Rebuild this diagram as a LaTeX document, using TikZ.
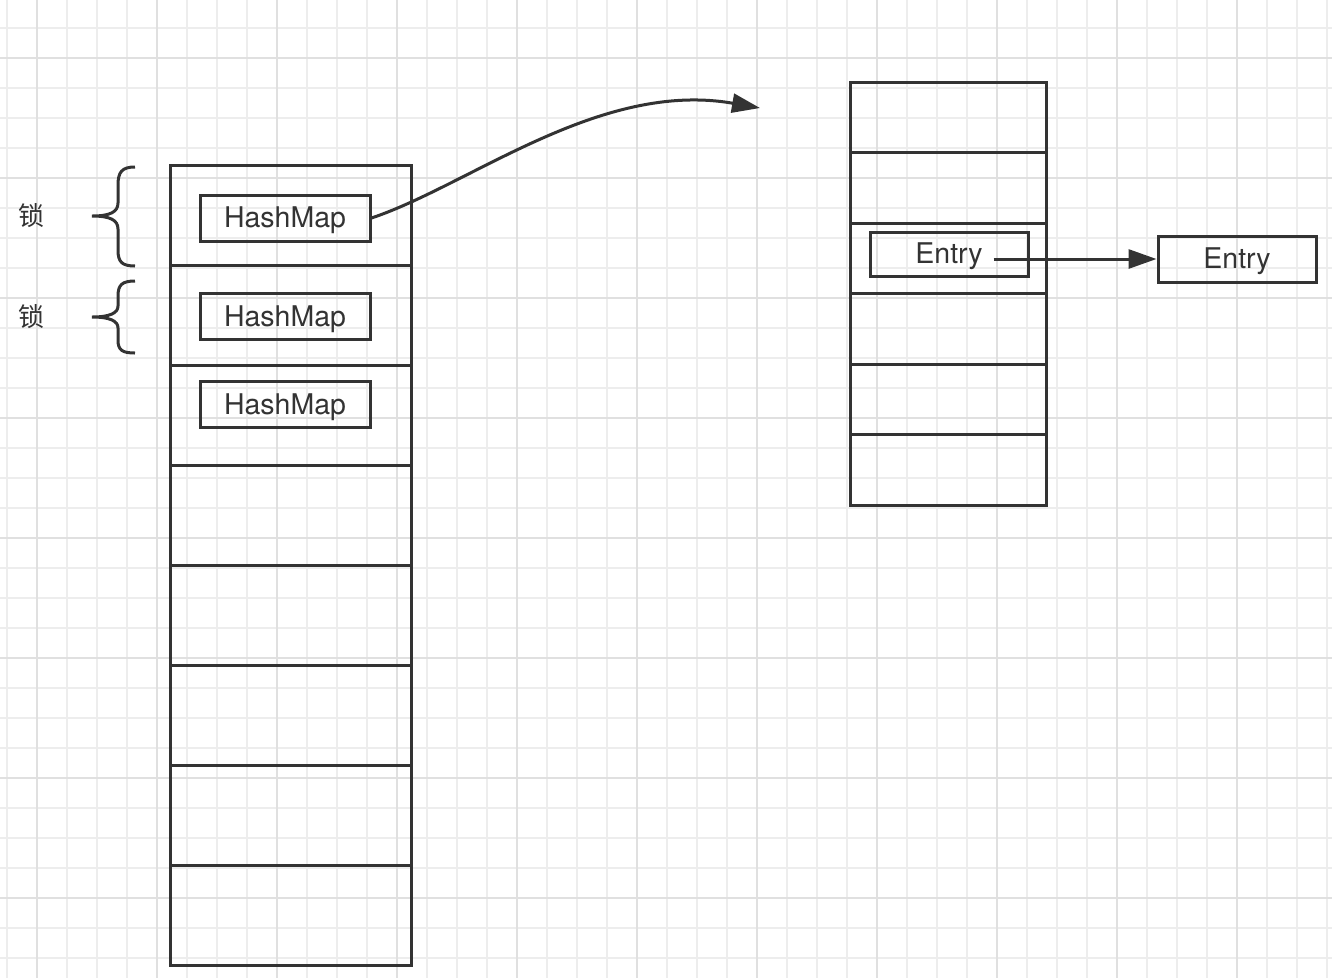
\documentclass[tikz,border=0pt]{standalone}
\usepackage{fontspec}
\setmainfont{TeX Gyre Heros}
\newfontfamily\cjk{Noto Sans CJK SC}
\usetikzlibrary{arrows.meta}
\definecolor{ink}{HTML}{333333}
\definecolor{gridminor}{HTML}{EDEDED}
\definecolor{gridmajor}{HTML}{E0E0E0}
\tikzset{
  cell/.style={draw=ink,line width=3pt,minimum width=#1,inner sep=0pt},
  box/.style={draw=ink,line width=3pt,inner sep=0pt,text=ink,text height=20pt,text depth=1pt,font=\fontsize{28.5}{30}\selectfont},
  lock/.style={text=ink,font=\cjk\fontsize{26}{28}\selectfont},
  link/.style={draw=ink,line width=3pt,-{Triangle[length=28pt,width=19pt]}},
  brace/.style={draw=ink,line width=3pt}
}
\begin{document}
\begin{tikzpicture}[x=1pt,y=-1pt]
		\fill[white] (0,0) rectangle (1332,978);
		\useasboundingbox (0,0) rectangle (1332,978);
		\foreach \x in {7,37,...,1327} \draw[gridminor,line width=2pt] (\x,0) -- (\x,978);
		\foreach \y in {28,58,...,978} \draw[gridminor,line width=2pt] (0,\y) -- (1332,\y);
		\foreach \x in {37,157,...,1327} \draw[gridmajor,line width=2pt] (\x,0) -- (\x,978);
		\foreach \y in {58,178,...,978} \draw[gridmajor,line width=2pt] (0,\y) -- (1332,\y);

		\foreach \i in {1,...,8}
			\node[cell=241pt,minimum height=100pt] (seg\i) at (290.5,{115+100*\i}) {};
		\foreach \i in {1,...,6}
			\node[cell=196pt,minimum height=70.5pt] (bucket\i) at (948,{46.75+70.5*\i}) {};

		\node[box,minimum width=170pt,minimum height=46pt] (map1) at (285,218) {HashMap};
		\node[box,minimum width=170pt,minimum height=46pt] (map2) at (285,316.5) {HashMap};
		\node[box,minimum width=170pt,minimum height=46pt] (map3) at (285,404.5) {HashMap};
		\node[box,minimum width=158pt,minimum height=44pt] (entry) at (949,254) {Entry};
		\node[box,minimum width=158pt,minimum height=46pt] (next) at (1237,259) {Entry};
		\coordinate (table) at (760,108);

		\draw[link] (map1.east) .. controls (470,185) and (600,80) .. (table);
		\draw[link] ([xshift=-36pt]entry.east |- next.west) -- (next.west);

		\node[lock] (lock1) at (31,216) {锁};
		\node[lock] (lock2) at (31,317) {锁};
		\draw[brace] (135,167) .. controls (122,167) and (118,172) .. (118,185) -- (118,203)
			.. controls (118,212) and (110,216) .. (92,216)
			.. controls (110,216) and (118,220) .. (118,229) -- (118,250)
			.. controls (118,262) and (122,266) .. (135,266);
		\draw[brace] (135,281) .. controls (122,281) and (118,285) .. (118,296) -- (118,306)
			.. controls (118,313) and (110,317) .. (92,317)
			.. controls (110,317) and (118,321) .. (118,328) -- (118,340)
			.. controls (118,350) and (122,353) .. (135,353);
\end{tikzpicture}
\end{document}
